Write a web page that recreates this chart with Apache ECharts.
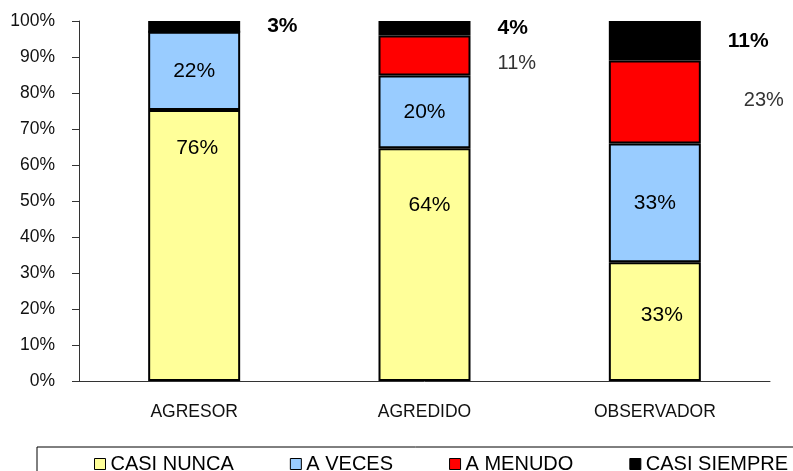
<!DOCTYPE html>
<html>
<head>
<meta charset="utf-8">
<script src="https://cdn.jsdelivr.net/npm/echarts@6/dist/echarts.min.js"></script>
<style>
  html, body { margin: 0; padding: 0; background: #fff; }
  #main { width: 793px; height: 471px; }
</style>
</head>
<body>
<div id="main"></div>
<script>
// categorias y porcentajes tal como salen en las etiquetas
const categories = ["AGRESOR", "AGREDIDO", "OBSERVADOR"];
const casiNunca = [76, 64, 33];
const aVeces = [22, 20, 33];
const aMenudo = [0, 11, 23];
const casiSiempre = [3, 4, 11];

// desplazamiento de etiquetas movidas a mano en el original
const casiNuncaLabelOffsets = [[3, -97], [5, -59], [7, -6]];
const aMenudoLabelOffsets = [[0, 0], [0, 8], [16, -2]];

const font = "Liberation Sans";

// 100% apilado: cada columna se normaliza a su total
const totals = categories.map((c, i) => casiNunca[i] + aVeces[i] + aMenudo[i] + casiSiempre[i]);

function seriesData(values, offsets) {
  return values.map((v, i) => {
    const item = { value: (v / totals[i]) * 100, raw: v };
    if (offsets) item.label = { offset: offsets[i] };
    return item;
  });
}

function pct(p) {
  return p.data.raw ? p.data.raw + "%" : "";
}

const chart = echarts.init(document.getElementById("main"));

const option = {
  animation: false,
  grid: { left: 79, right: 23, top: 21, bottom: 90 },
  legend: {
    data: ["CASI NUNCA", "A VECES", "A MENUDO", "CASI SIEMPRE"],
    left: 37,
    top: 447,
    width: 700,
    padding: [7, 40, 7, 57],
    borderColor: "#000",
    borderWidth: 1,
    icon: "rect",
    itemWidth: 11,
    itemHeight: 11,
    itemGap: 56,
    itemStyle: { borderColor: "#000", borderWidth: 1 },
    textStyle: { fontFamily: font, fontSize: 20, color: "#000" },
  },
  xAxis: {
    type: "category",
    data: categories,
    axisLine: { lineStyle: { color: "#333", width: 1 } },
    axisTick: { length: 6, lineStyle: { color: "#333" } },
    axisLabel: { fontFamily: font, fontSize: 17.5, color: "#111", margin: 22 },
  },
  yAxis: {
    type: "value",
    min: 0,
    max: 100,
    interval: 10,
    axisLine: { show: true, lineStyle: { color: "#333", width: 1 } },
    axisTick: { show: true, length: 7, lineStyle: { color: "#333" } },
    splitLine: { show: false },
    axisLabel: {
      formatter: "{value}%",
      fontFamily: font,
      fontSize: 17.5,
      color: "#111",
      margin: 24,
    },
  },
  series: [
    {
      name: "CASI NUNCA",
      type: "bar",
      stack: "total",
      barWidth: 92,
      data: seriesData(casiNunca, casiNuncaLabelOffsets),
      itemStyle: { color: "#ffff99", borderColor: "#000", borderWidth: 2 },
      label: {
        show: true,
        position: "inside",
        formatter: pct,
        fontFamily: font,
        fontSize: 21,
        color: "#000",
      },
    },
    {
      name: "A VECES",
      type: "bar",
      stack: "total",
      barWidth: 92,
      data: seriesData(aVeces),
      itemStyle: { color: "#99ccff", borderColor: "#000", borderWidth: 2 },
      label: {
        show: true,
        position: "inside",
        formatter: pct,
        fontFamily: font,
        fontSize: 21,
        color: "#000",
      },
    },
    {
      name: "A MENUDO",
      type: "bar",
      stack: "total",
      barWidth: 92,
      data: seriesData(aMenudo, aMenudoLabelOffsets),
      itemStyle: { color: "#ff0000", borderColor: "#000", borderWidth: 2 },
      label: {
        show: true,
        position: "right",
        distance: 27,
        formatter: pct,
        fontFamily: font,
        fontSize: 20,
        color: "#333",
      },
    },
    {
      name: "CASI SIEMPRE",
      type: "bar",
      stack: "total",
      barWidth: 92,
      data: seriesData(casiSiempre),
      itemStyle: { color: "#000000", borderColor: "#000", borderWidth: 2 },
      label: {
        show: true,
        position: "right",
        distance: 27,
        formatter: pct,
        fontFamily: font,
        fontSize: 21,
        fontWeight: "bold",
        color: "#000",
      },
    },
  ],
};

chart.setOption(option);
</script>
</body>
</html>
